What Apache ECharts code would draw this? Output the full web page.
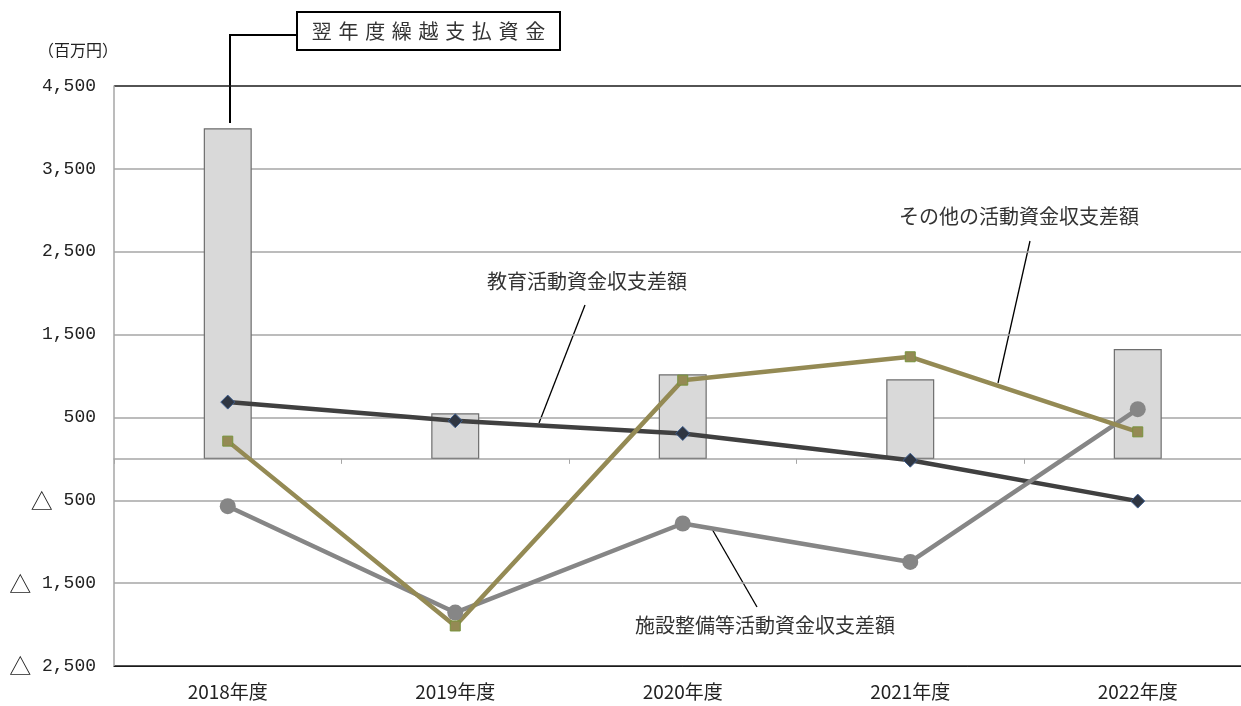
<!DOCTYPE html>
<html>
<head>
<meta charset="utf-8">
<script src="https://cdn.jsdelivr.net/npm/echarts@6/dist/echarts.min.js"></script>
<style>
  html, body { margin: 0; padding: 0; background: #fff; overflow: hidden; }
  #chart { width: 1256px; height: 706px; }
</style>
</head>
<body>
<div id="chart"></div>
<script>
// 年度
const years = ["2018年度", "2019年度", "2020年度", "2021年度", "2022年度"];
// 翌年度繰越支払資金（百万円）
const carryOver = [3990, 550, 1020, 960, 1325];
// 教育活動資金収支差額
const education = [685, 460, 307, -16, -510];
// 施設整備等活動資金収支差額
const facilities = [-571, -1855, -780, -1244, 600];
// その他の活動資金収支差額
const otherActs = [214, -2017, 950, 1232, 326];
// 目盛ラベル
const yTicks = [-2500, -1500, -500, 500, 1500, 2500, 3500, 4500];

const jp = "Noto Sans CJK JP";
const gridGray = "#a6a6a6";

const fmt = (v) => {
  const s = Math.abs(v).toLocaleString("en-US");
  return v < 0 ? "{t|△} " + s : s;
};

// 500刻みの線のうち、ラベルのある線だけ色を付ける
const splitColors = [];
for (let v = -2500; v <= 4500; v += 500) {
  if (v === -2500 || v === 4500) splitColors.push("#1a1a1a");
  else if (yTicks.includes(v)) splitColors.push(gridGray);
  else splitColors.push("rgba(0,0,0,0)");
}

const chart = echarts.init(document.getElementById("chart"));
const option = {
  animation: false,
  grid: { left: 114, top: 86, width: 1137.5, bottom: 40, containLabel: false },
  xAxis: [
    {
      type: "category",
      data: years,
      position: "bottom",
      axisLine: { onZero: false, lineStyle: { color: "#1a1a1a", width: 1 } },
      axisTick: { show: false },
      axisLabel: { fontFamily: jp, fontSize: 19, color: "#222", margin: 16 },
    },
    {
      type: "category",
      data: years,
      position: "bottom",
      axisLine: { onZero: true, lineStyle: { color: gridGray, width: 1.5 } },
      axisTick: { show: true, length: 5, lineStyle: { color: gridGray } },
      axisLabel: { show: false },
    },
  ],
  yAxis: {
    type: "value",
    min: -2500,
    max: 4500,
    interval: 500,
    axisLine: { show: true, lineStyle: { color: gridGray, width: 1.5 } },
    axisTick: { show: false },
    splitLine: { show: true, lineStyle: { color: splitColors, width: 1.5 } },
    axisLabel: {
      fontFamily: "Liberation Mono",
      fontSize: 18,
      color: "#222",
      margin: 18,
      formatter: (v) => (yTicks.includes(v) ? fmt(v) : ""),
      rich: { t: { fontFamily: jp, fontSize: 22, color: "#222" } },
    },
  },
  series: [
    {
      name: "翌年度繰越支払資金",
      type: "bar",
      data: carryOver,
      barWidth: 48,
      itemStyle: { color: "#d9d9d9", borderColor: "#6e6e6e", borderWidth: 1.2 },
    },
    {
      name: "教育活動資金収支差額",
      type: "line",
      data: education,
      symbol: "diamond",
      symbolSize: 14,
      lineStyle: { color: "#404040", width: 4.5 },
      itemStyle: { color: "#2f3642", borderColor: "#3f5f8f", borderWidth: 1 },
    },
    {
      name: "施設整備等活動資金収支差額",
      type: "line",
      data: facilities,
      symbol: "circle",
      symbolSize: 16,
      lineStyle: { color: "#868686", width: 4.5 },
      itemStyle: { color: "#868686" },
    },
    {
      name: "その他の活動資金収支差額",
      type: "line",
      data: otherActs,
      symbol: "rect",
      symbolSize: 10,
      lineStyle: { color: "#948a54", width: 4.5 },
      itemStyle: { color: "#948a54", borderColor: "#77933c", borderWidth: 1 },
    },
  ],
  graphic: [
    { type: "text", left: 38, top: 42, style: { text: "（百万円）", font: "16px " + jp, fill: "#222" } },
    // 翌年度繰越支払資金の吹き出し
    { type: "polyline", shape: { points: [[297, 35], [230, 35], [230, 123]] }, style: { stroke: "#000", lineWidth: 2, fill: null } },
    { type: "rect", shape: { x: 297, y: 12, width: 263, height: 38 }, style: { stroke: "#000", lineWidth: 2, fill: "#fff" } },
    {
      type: "text", x: 428.5, y: 31,
      style: { text: "翌\u2004年\u2004度\u2004繰\u2004越\u2004支\u2004払\u2004資\u2004金", font: "20px " + jp, fill: "#333", align: "center", verticalAlign: "middle" },
    },
    // 教育活動資金収支差額
    { type: "text", x: 587, y: 281, style: { text: "教育活動資金収支差額", font: "20px " + jp, fill: "#333", align: "center", verticalAlign: "middle" } },
    { type: "line", shape: { x1: 585, y1: 305, x2: 539, y2: 423 }, style: { stroke: "#000", lineWidth: 1.3 } },
    // その他の活動資金収支差額
    { type: "text", x: 1019, y: 216, style: { text: "その他の活動資金収支差額", font: "20px " + jp, fill: "#333", align: "center", verticalAlign: "middle" } },
    { type: "line", shape: { x1: 1030, y1: 241, x2: 998, y2: 383 }, style: { stroke: "#000", lineWidth: 1.3 } },
    // 施設整備等活動資金収支差額
    { type: "text", x: 765, y: 625, style: { text: "施設整備等活動資金収支差額", font: "20px " + jp, fill: "#333", align: "center", verticalAlign: "middle" } },
    { type: "line", shape: { x1: 712, y1: 529, x2: 757, y2: 607 }, style: { stroke: "#000", lineWidth: 1.3 } },
  ],
};
chart.setOption(option);
</script>
</body>
</html>
